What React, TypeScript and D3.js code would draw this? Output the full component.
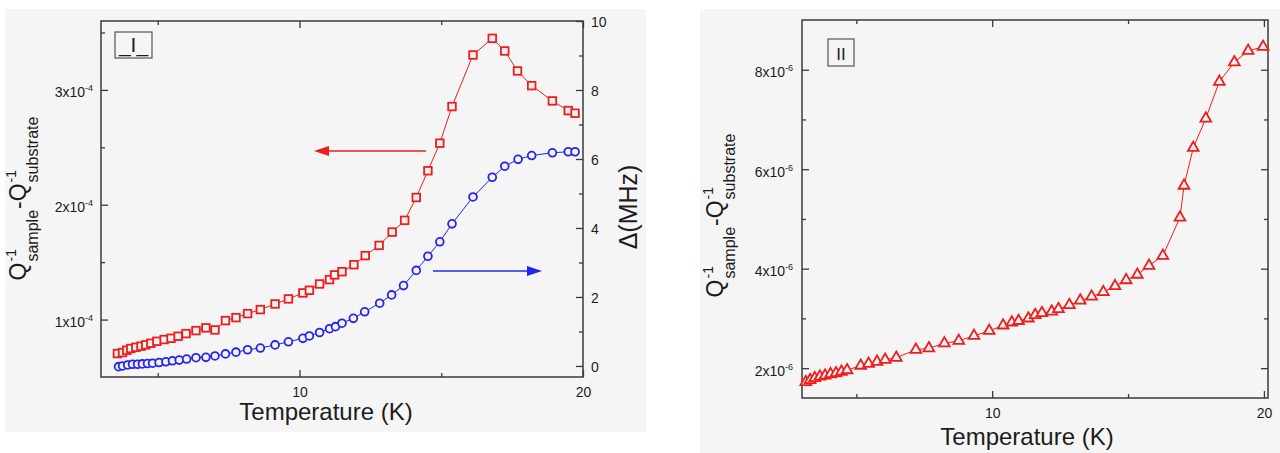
import React, { useEffect, useRef } from "react";
import * as d3 from "d3";

const FONT = "'Liberation Sans', Arial, Helvetica, sans-serif";
const BG = "#f5f5f5";
const RED = "#f01c1c";
const BLUE = "#2424f2";
const INK = "#1c1c1c";
const AXIS = "#3a3a3a";

// panel I, red squares, left axis (units of 1e-4)
const tempSq = [3.58, 3.76, 3.91, 4.05, 4.23, 4.41, 4.58, 4.76, 4.97, 5.23, 5.47, 5.72, 6.0, 6.35, 6.7, 7.02, 7.39, 7.76, 8.17, 8.62, 9.14, 9.61, 10.12, 10.35, 10.71, 11.06, 11.24, 11.5, 11.92, 12.32, 12.81, 13.27, 13.71, 14.12, 14.53, 14.95, 15.38, 16.12, 16.8, 17.24, 17.69, 18.19, 18.92, 19.48, 19.72];
const qSq = [0.704, 0.713, 0.733, 0.748, 0.759, 0.768, 0.78, 0.794, 0.811, 0.826, 0.837, 0.855, 0.878, 0.904, 0.928, 0.91, 0.991, 1.017, 1.052, 1.087, 1.136, 1.18, 1.232, 1.255, 1.31, 1.348, 1.389, 1.417, 1.478, 1.557, 1.646, 1.762, 1.864, 2.063, 2.296, 2.536, 2.855, 3.304, 3.449, 3.339, 3.165, 3.037, 2.904, 2.82, 2.797];

// panel I, blue circles, right axis (MHz)
const tempCirc = [3.62, 3.76, 3.94, 4.11, 4.29, 4.46, 4.64, 4.82, 5.05, 5.29, 5.52, 5.76, 6.02, 6.35, 6.7, 7.02, 7.39, 7.76, 8.17, 8.62, 9.14, 9.61, 10.12, 10.35, 10.71, 11.06, 11.27, 11.5, 11.9, 12.3, 12.83, 13.25, 13.67, 14.12, 14.53, 14.95, 15.38, 16.12, 16.8, 17.24, 17.71, 18.19, 18.92, 19.48, 19.72];
const deltaCirc = [-0.02, 0, 0.03, 0.05, 0.05, 0.06, 0.07, 0.08, 0.1, 0.12, 0.15, 0.17, 0.2, 0.24, 0.25, 0.29, 0.35, 0.4, 0.47, 0.52, 0.61, 0.7, 0.8, 0.87, 0.97, 1.08, 1.14, 1.24, 1.38, 1.57, 1.82, 2.06, 2.33, 2.77, 3.18, 3.6, 4.12, 4.9, 5.47, 5.79, 5.99, 6.1, 6.18, 6.21, 6.21];

// panel II, red triangles (units of 1e-6)
const tempTri = [3.14, 3.3, 3.47, 3.66, 3.85, 4.05, 4.25, 4.45, 4.66, 5.16, 5.45, 5.76, 6.06, 6.47, 7.19, 7.67, 8.24, 8.77, 9.33, 9.89, 10.4, 10.72, 10.97, 11.33, 11.58, 11.83, 12.19, 12.44, 12.84, 13.24, 13.66, 14.09, 14.52, 14.93, 15.34, 15.77, 16.28, 16.91, 17.06, 17.4, 17.86, 18.36, 18.91, 19.42, 19.97];
const qTri = [1.72, 1.76, 1.8, 1.83, 1.85, 1.88, 1.9, 1.93, 1.96, 2.05, 2.09, 2.13, 2.17, 2.21, 2.37, 2.4, 2.5, 2.55, 2.65, 2.75, 2.86, 2.92, 2.95, 3.0, 3.07, 3.11, 3.14, 3.19, 3.27, 3.36, 3.44, 3.53, 3.65, 3.77, 3.88, 4.06, 4.26, 5.03, 5.67, 6.43, 7.02, 7.76, 8.15, 8.38, 8.46];

const tempMajor = [10, 20];
const tempMinor = [5, 15];
const qIMajor = [1, 2, 3];
const qIMinor = [1.5, 2.5, 3.5];
const deltaMajor = [0, 2, 4, 6, 8, 10];
const deltaMinor = [1, 3, 5, 7, 9];
const qIIMajor = [2, 4, 6, 8];
const qIIMinor = [3, 5, 7];

function styleAxis(g) {
  g.select(".domain").remove();
  g.selectAll(".tick line").attr("stroke", AXIS).attr("stroke-width", 1.3);
  g.selectAll(".tick text").attr("fill", INK).attr("font-size", 14).attr("font-family", FONT);
}

function sciLabels(g, exp) {
  g.selectAll(".tick text").each(function (d) {
    const t = d3.select(this);
    t.text(null).attr("dy", 7);
    t.append("tspan").text(`${d}x10`);
    t.append("tspan").attr("dy", -6).attr("font-size", 9).text(exp);
  });
}

function stackedTitle(svg, bx, cy, parts) {
  const outer = svg.append("g").attr("transform", `translate(${bx},${cy}) rotate(-90)`);
  const inner = outer.append("g").attr("font-family", FONT).attr("fill", INK);
  let x = 0;
  parts.forEach(p => {
    const b = inner.append("text").attr("x", x).attr("font-size", 23).text(p.base);
    x += b.node().getComputedTextLength() + 1;
    const sp = inner.append("text").attr("x", x).attr("y", -10).attr("font-size", 14).text(p.sup);
    const sb = inner.append("text").attr("x", x).attr("y", 12).attr("font-size", 16).text(p.sub);
    x += Math.max(sp.node().getComputedTextLength(), sb.node().getComputedTextLength()) + 1;
  });
  inner.attr("transform", `translate(${-x / 2},0)`);
}

function arrow(svg, x1, x2, y, color) {
  const dir = Math.sign(x2 - x1);
  const head = 15;
  svg.append("line")
    .attr("x1", x1).attr("x2", x2 - dir * head).attr("y1", y).attr("y2", y)
    .attr("stroke", color).attr("stroke-width", 1.5);
  svg.append("path")
    .attr("d", `M${x2},${y}L${x2 - dir * head},${y - 5}L${x2 - dir * head},${y + 5}Z`)
    .attr("fill", color);
}

function labelBox(svg, x, y, w, h, label, size) {
  svg.append("rect").attr("x", x).attr("y", y).attr("width", w).attr("height", h)
    .attr("fill", "none").attr("stroke", "#555").attr("stroke-width", 1.2);
  svg.append("text").attr("x", x + w / 2).attr("y", y + h - 6)
    .attr("text-anchor", "middle").attr("font-family", FONT).attr("font-size", size)
    .attr("fill", INK).text(label);
}

function tempAxes(svg, x, y0, y1) {
  const bot = svg.append("g").attr("transform", `translate(0,${y1})`)
    .call(d3.axisBottom(x).tickValues(tempMajor).tickSizeInner(-7).tickSizeOuter(0).tickPadding(10));
  styleAxis(bot);
  const botMin = svg.append("g").attr("transform", `translate(0,${y1})`)
    .call(d3.axisBottom(x).tickValues(tempMinor).tickSizeInner(-4).tickSizeOuter(0).tickFormat(() => ""));
  styleAxis(botMin);
  const top = svg.append("g").attr("transform", `translate(0,${y0})`)
    .call(d3.axisTop(x).tickValues(tempMajor).tickSizeInner(-7).tickSizeOuter(0).tickFormat(() => ""));
  styleAxis(top);
  const topMin = svg.append("g").attr("transform", `translate(0,${y0})`)
    .call(d3.axisTop(x).tickValues(tempMinor).tickSizeInner(-4).tickSizeOuter(0).tickFormat(() => ""));
  styleAxis(topMin);
}

function panelI(svg) {
  const L = 101, R = 583, T = 21, B = 377;
  const x = d3.scaleLinear().domain([3, 20]).range([L, R]);
  const yQ = d3.scaleLinear().domain([0.5, 3.6]).range([B, T]);
  const yD = d3.scaleLinear().domain([-0.32, 10]).range([B, T]);

  svg.append("rect").attr("x", 5).attr("y", 9).attr("width", 641).attr("height", 423).attr("fill", BG);

  tempAxes(svg, x, T, B);

  const left = svg.append("g").attr("transform", `translate(${L},0)`)
    .call(d3.axisLeft(yQ).tickValues(qIMajor).tickSizeInner(-7).tickSizeOuter(0).tickPadding(8));
  styleAxis(left);
  sciLabels(left, "-4");
  const leftMin = svg.append("g").attr("transform", `translate(${L},0)`)
    .call(d3.axisLeft(yQ).tickValues(qIMinor).tickSizeInner(-4).tickSizeOuter(0).tickFormat(() => ""));
  styleAxis(leftMin);

  const right = svg.append("g").attr("transform", `translate(${R},0)`)
    .call(d3.axisRight(yD).tickValues(deltaMajor).tickSizeInner(-7).tickSizeOuter(0).tickPadding(8));
  styleAxis(right);
  right.selectAll(".tick text").attr("dy", 5.5);
  const rightMin = svg.append("g").attr("transform", `translate(${R},0)`)
    .call(d3.axisRight(yD).tickValues(deltaMinor).tickSizeInner(-4).tickSizeOuter(0).tickFormat(() => ""));
  styleAxis(rightMin);

  svg.append("rect").attr("x", L).attr("y", T).attr("width", R - L).attr("height", B - T)
    .attr("fill", "none").attr("stroke", AXIS).attr("stroke-width", 1.5);

  // red squares
  const sq = tempSq.map((t, i) => [t, qSq[i]]);
  const lineQ = d3.line().x(d => x(d[0])).y(d => yQ(d[1]));
  svg.append("path").datum(sq).attr("d", lineQ).attr("fill", "none").attr("stroke", RED).attr("stroke-width", 1);
  svg.append("g").selectAll("rect").data(sq).join("rect")
    .attr("x", d => x(d[0]) - 3.8).attr("y", d => yQ(d[1]) - 3.8)
    .attr("width", 7.6).attr("height", 7.6)
    .attr("fill", BG).attr("stroke", RED).attr("stroke-width", 1.8);

  // blue circles
  const ci = tempCirc.map((t, i) => [t, deltaCirc[i]]);
  const lineD = d3.line().x(d => x(d[0])).y(d => yD(d[1]));
  svg.append("path").datum(ci).attr("d", lineD).attr("fill", "none").attr("stroke", BLUE).attr("stroke-width", 1);
  svg.append("g").selectAll("circle").data(ci).join("circle")
    .attr("cx", d => x(d[0])).attr("cy", d => yD(d[1])).attr("r", 3.9)
    .attr("fill", BG).attr("stroke", BLUE).attr("stroke-width", 1.8);

  arrow(svg, 426, 314, 151, RED);
  arrow(svg, 433, 542, 271, BLUE);

  labelBox(svg, 115, 32, 37, 26, "_I_", 21);

  svg.append("text").attr("x", 326).attr("y", 420).attr("text-anchor", "middle")
    .attr("font-family", FONT).attr("font-size", 24).attr("fill", INK).text("Temperature (K)");
  stackedTitle(svg, 26, 198, [
    { base: "Q", sup: "-1", sub: "sample" },
    { base: "-Q", sup: "-1", sub: "substrate" },
  ]);
  svg.append("text").attr("transform", "translate(637,207) rotate(-90)").attr("text-anchor", "middle")
    .attr("font-family", FONT).attr("font-size", 25).attr("fill", INK).text("Δ(MHz)");
}

function panelII(svg) {
  const L = 802, R = 1268, T = 20, B = 398;
  const x = d3.scaleLinear().domain([3, 20.15]).range([L, R]);
  const y = d3.scaleLinear().domain([1.4, 9.0]).range([B, T]);

  svg.append("rect").attr("x", 700).attr("y", 9).attr("width", 580).attr("height", 444).attr("fill", BG);

  tempAxes(svg, x, T, B);

  const left = svg.append("g").attr("transform", `translate(${L},0)`)
    .call(d3.axisLeft(y).tickValues(qIIMajor).tickSizeInner(-7).tickSizeOuter(0).tickPadding(9));
  styleAxis(left);
  sciLabels(left, "-6");
  const leftMin = svg.append("g").attr("transform", `translate(${L},0)`)
    .call(d3.axisLeft(y).tickValues(qIIMinor).tickSizeInner(-4).tickSizeOuter(0).tickFormat(() => ""));
  styleAxis(leftMin);
  const right = svg.append("g").attr("transform", `translate(${R},0)`)
    .call(d3.axisRight(y).tickValues(qIIMajor).tickSizeInner(-7).tickSizeOuter(0).tickFormat(() => ""));
  styleAxis(right);
  const rightMin = svg.append("g").attr("transform", `translate(${R},0)`)
    .call(d3.axisRight(y).tickValues(qIIMinor).tickSizeInner(-4).tickSizeOuter(0).tickFormat(() => ""));
  styleAxis(rightMin);

  svg.append("rect").attr("x", L).attr("y", T).attr("width", R - L).attr("height", B - T)
    .attr("fill", "none").attr("stroke", AXIS).attr("stroke-width", 1.5);

  const tri = tempTri.map((t, i) => [t, qTri[i]]);
  const line = d3.line().x(d => x(d[0])).y(d => y(d[1]));
  svg.append("path").datum(tri).attr("d", line).attr("fill", "none").attr("stroke", RED).attr("stroke-width", 1);
  const sym = d3.symbol(d3.symbolTriangle).size(50);
  svg.append("g").selectAll("path").data(tri).join("path")
    .attr("transform", d => `translate(${x(d[0])},${y(d[1])})`)
    .attr("d", sym)
    .attr("fill", BG).attr("stroke", RED).attr("stroke-width", 1.8);

  labelBox(svg, 828, 39, 26, 27, "II", 17);

  svg.append("text").attr("x", 1027).attr("y", 445).attr("text-anchor", "middle")
    .attr("font-family", FONT).attr("font-size", 24).attr("fill", INK).text("Temperature (K)");
  stackedTitle(svg, 723, 215, [
    { base: "Q", sup: "-1", sub: "sample" },
    { base: "-Q", sup: "-1", sub: "substrate" },
  ]);
}

export default function App() {
  const ref = useRef(null);

  useEffect(() => {
    const svg = d3.select(ref.current);
    svg.selectAll("*").remove();
    panelI(svg);
    panelII(svg);
  }, []);

  return (
    <svg ref={ref} width={1280} height={453}
      style={{ position: "absolute", left: 0, top: 0, background: "#fff" }} />
  );
}
